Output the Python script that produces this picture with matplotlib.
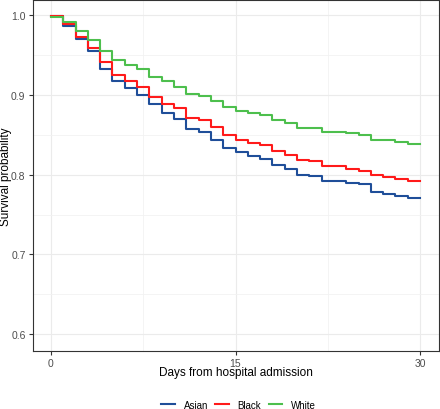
import matplotlib
matplotlib.use('Agg')
import matplotlib.pyplot as plt

plt.rcParams['font.family'] = ['Liberation Sans', 'DejaVu Sans']

# survival probability, one value per day (0..29), last held to day 30
days = list(range(0, 31))
asian = [0.999, 0.987, 0.970, 0.955, 0.933, 0.918, 0.909, 0.900, 0.888, 0.877,
         0.870, 0.857, 0.854, 0.844, 0.834, 0.829, 0.824, 0.820, 0.812, 0.807,
         0.800, 0.798, 0.792, 0.792, 0.789, 0.788, 0.778, 0.776, 0.773, 0.771]
black = [0.999, 0.989, 0.972, 0.959, 0.941, 0.925, 0.917, 0.910, 0.898, 0.888,
         0.883, 0.871, 0.868, 0.860, 0.850, 0.844, 0.840, 0.837, 0.830, 0.825,
         0.818, 0.817, 0.811, 0.811, 0.807, 0.805, 0.799, 0.797, 0.794, 0.792]
white = [0.998, 0.991, 0.980, 0.969, 0.955, 0.944, 0.938, 0.932, 0.922, 0.917,
         0.910, 0.901, 0.899, 0.892, 0.885, 0.880, 0.877, 0.875, 0.868, 0.865,
         0.859, 0.858, 0.854, 0.853, 0.852, 0.850, 0.844, 0.843, 0.841, 0.839]

groups = ['Asian', 'Black', 'White']
colors = ['#1F4E99', '#FF1A1A', '#4DBF4D']

fig = plt.figure(figsize=(4.4, 4.1), dpi=100)
ax = fig.add_axes([0.0739, 0.1415, 0.9227, 0.8561])

for vals, name, col in zip([asian, black, white], groups, colors):
    ax.plot(days, vals + [vals[-1]], drawstyle='steps-post', color=col, lw=1.5, label=name)

ax.set_xlim(-1.5, 31.5)
ax.set_ylim(0.579, 1.019)
ax.set_xticks([0, 15, 30])
ax.set_xticks([7.5, 22.5], minor=True)
ax.set_yticks([0.6, 0.7, 0.8, 0.9, 1.0])
ax.set_yticklabels(['0.6', '0.7', '0.8', '0.9', '1.0'])
ax.set_yticks([0.65, 0.75, 0.85, 0.95], minor=True)
ax.grid(which='major', color='#EBEBEB', lw=0.8)
ax.grid(which='minor', color='#F2F2F2', lw=0.6)
ax.set_axisbelow(True)
ax.tick_params(which='major', length=3, color='#333333', labelsize=7.5, labelcolor='#4D4D4D', pad=2)
ax.tick_params(which='minor', length=0)
for s in ax.spines.values():
    s.set_color('#333333')
    s.set_linewidth(0.8)

ax.set_xlabel('Days from hospital admission', fontsize=8.5)
ax.set_ylabel('Survival probability', fontsize=8.5)
ax.xaxis.set_label_coords(0.5, -0.061)
ax.yaxis.set_label_coords(-0.066, 0.5)
ax.xaxis.label.set_va('center')
ax.yaxis.label.set_va('center')

fig.legend(loc='center', bbox_to_anchor=(0.542, 0.01), ncol=3, frameon=False,
           fontsize=7, handlelength=1.4, columnspacing=0.75, handletextpad=0.9)

fig.savefig('out.png', dpi=100)
